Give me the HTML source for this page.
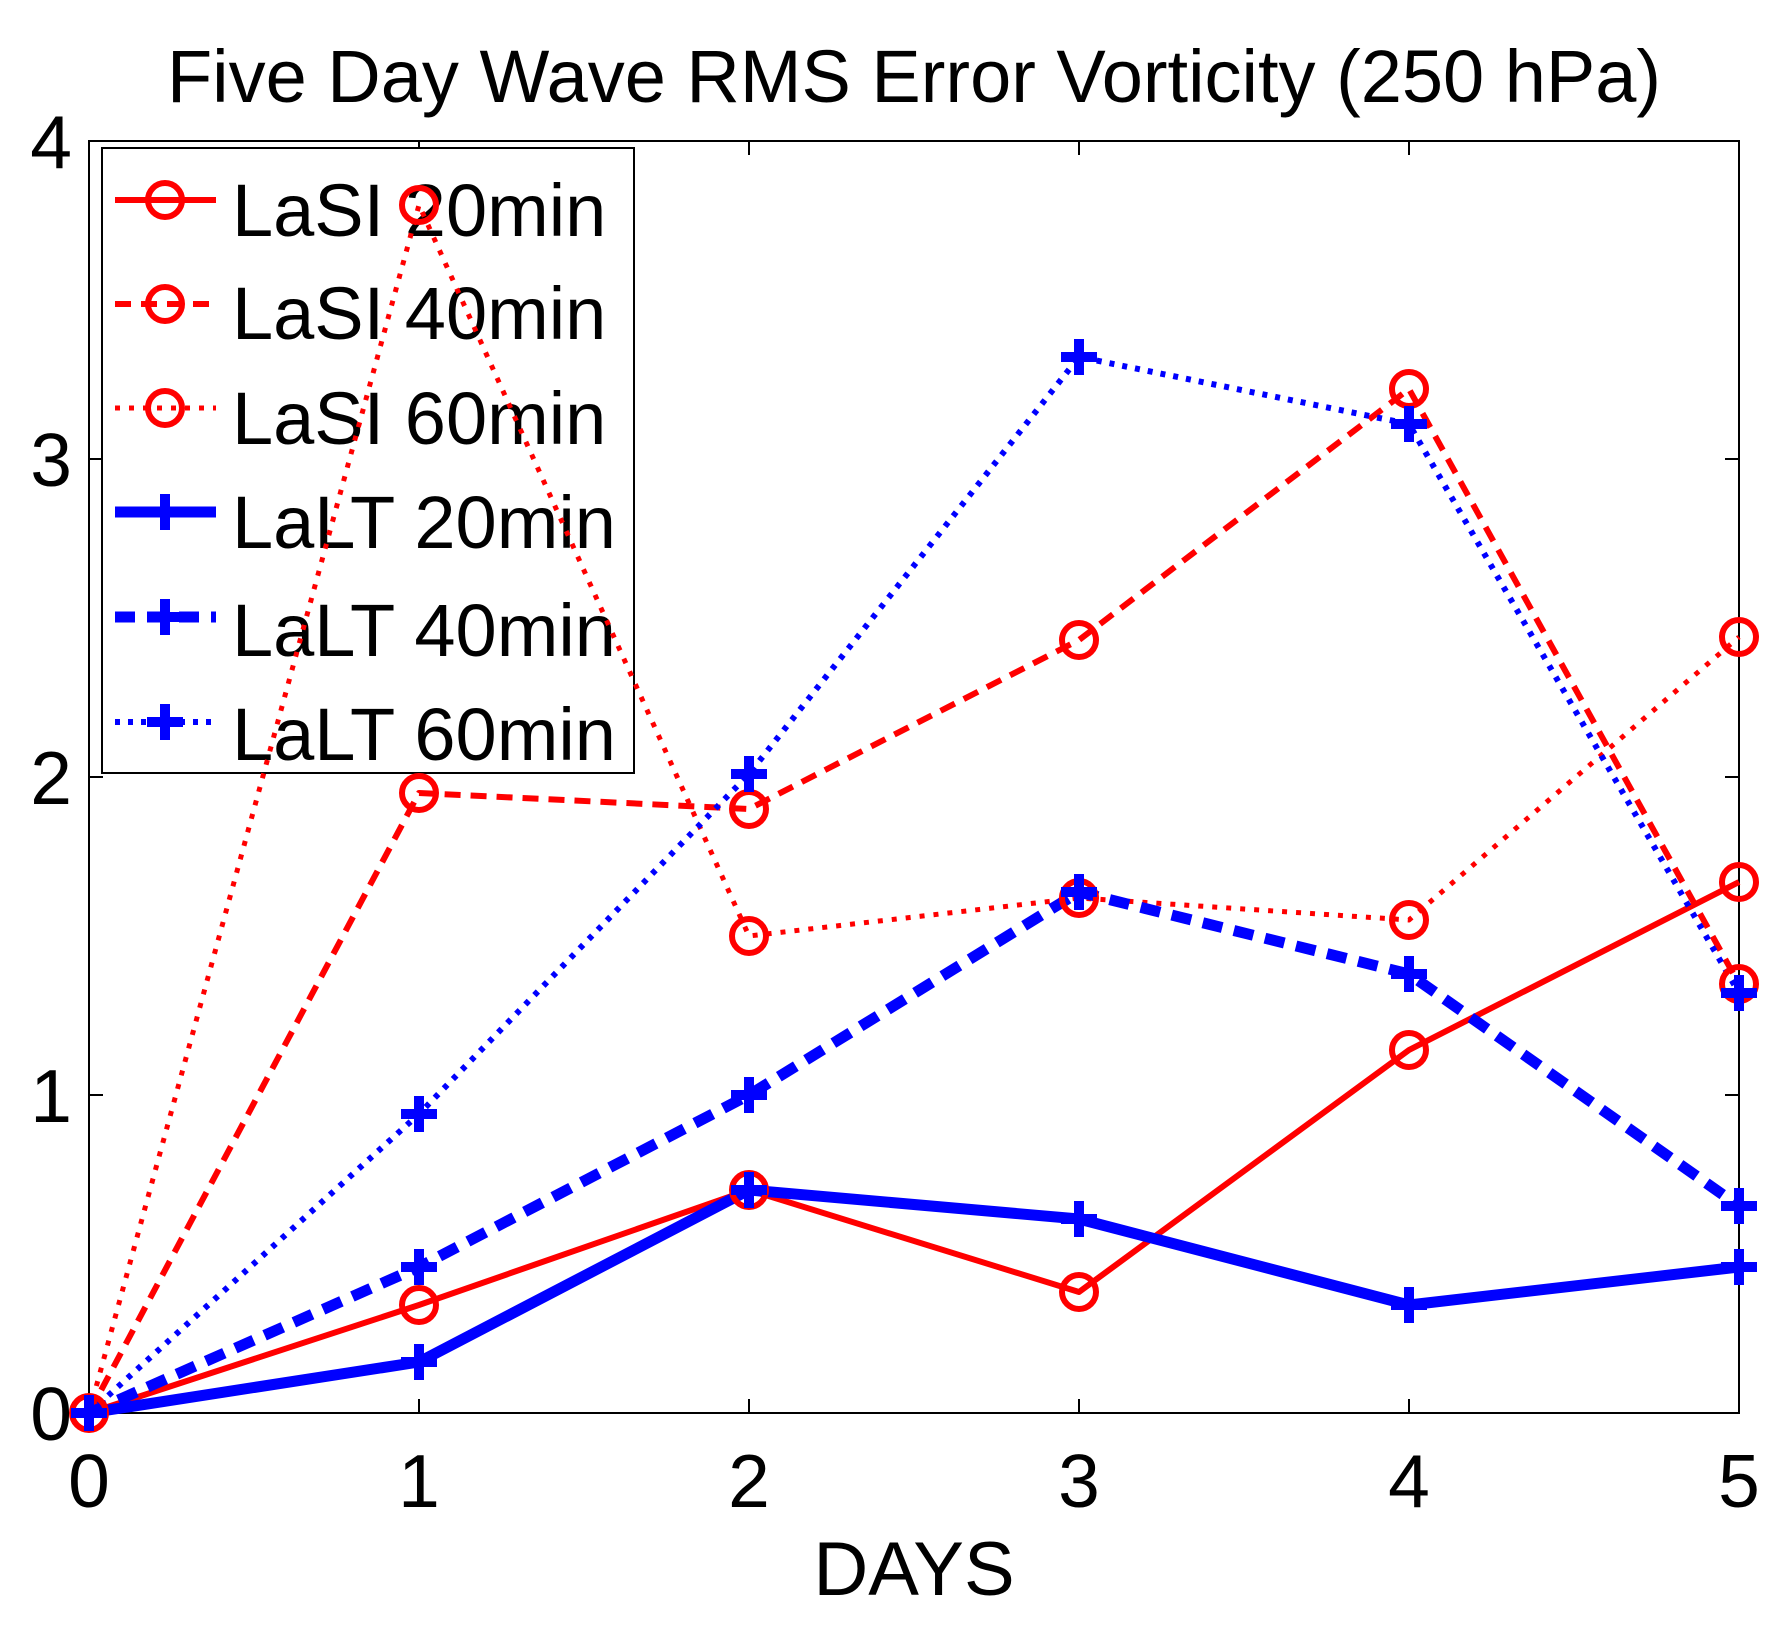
<!DOCTYPE html>
<html><head><meta charset="utf-8"><style>html,body{margin:0;padding:0;background:#fff}svg{display:block}</style></head>
<body>
<svg width="1786" height="1637" viewBox="0 0 1786 1637" xmlns="http://www.w3.org/2000/svg" font-family="Liberation Sans, Arial, sans-serif">
<rect width="1786" height="1637" fill="#fff"/>
<text x="914" y="102" font-size="74" text-anchor="middle">Five Day Wave RMS Error Vorticity (250 hPa)</text>
<!-- axes -->
<rect x="89" y="141" width="1650" height="1272" fill="none" stroke="#000" stroke-width="2"/>
<g stroke="#000" stroke-width="2">
<line x1="419" y1="1413" x2="419" y2="1399"/><line x1="749" y1="1413" x2="749" y2="1399"/><line x1="1079" y1="1413" x2="1079" y2="1399"/><line x1="1409" y1="1413" x2="1409" y2="1399"/>
<line x1="419" y1="141" x2="419" y2="155"/><line x1="749" y1="141" x2="749" y2="155"/><line x1="1079" y1="141" x2="1079" y2="155"/><line x1="1409" y1="141" x2="1409" y2="155"/>
<line x1="89" y1="459" x2="103" y2="459"/><line x1="89" y1="777" x2="103" y2="777"/><line x1="89" y1="1095" x2="103" y2="1095"/>
<line x1="1739" y1="459" x2="1725" y2="459"/><line x1="1739" y1="777" x2="1725" y2="777"/><line x1="1739" y1="1095" x2="1725" y2="1095"/>
</g>
<g font-size="75" text-anchor="middle">
<text x="89" y="1507">0</text><text x="419" y="1507">1</text><text x="749" y="1507">2</text><text x="1079" y="1507">3</text><text x="1409" y="1507">4</text><text x="1739" y="1507">5</text>
</g>
<g font-size="75" text-anchor="end">
<text x="72" y="1440">0</text><text x="72" y="1122">1</text><text x="72" y="804">2</text><text x="72" y="486">3</text><text x="72" y="168">4</text>
</g>
<text x="914" y="1595" font-size="76" text-anchor="middle">DAYS</text>
<!-- legend -->
<rect x="102" y="148" width="532" height="625" fill="#fff" stroke="#000" stroke-width="2"/>
<g font-size="74">
<text x="232" y="236">LaSI 20min</text><text x="232" y="339">LaSI 40min</text><text x="232" y="444">LaSI 60min</text>
<text x="232" y="548">LaLT 20min</text><text x="232" y="656">LaLT 40min</text><text x="232" y="760">LaLT 60min</text>
</g>
<g fill="none">
<line x1="115" y1="200" x2="216" y2="200" stroke="#f00" stroke-width="6"/>
<line x1="115" y1="304" x2="216" y2="304" stroke="#f00" stroke-width="6" stroke-dasharray="16,10"/>
<line x1="115" y1="408" x2="216" y2="408" stroke="#f00" stroke-width="5" stroke-dasharray="5,9"/>
<circle cx="165" cy="200" r="17" stroke="#f00" stroke-width="6"/><circle cx="165" cy="304" r="17" stroke="#f00" stroke-width="6"/><circle cx="165" cy="408" r="17" stroke="#f00" stroke-width="6"/>
<line x1="115" y1="512" x2="216" y2="512" stroke="#00f" stroke-width="11"/>
<line x1="115" y1="617" x2="216" y2="617" stroke="#00f" stroke-width="11" stroke-dasharray="20,12"/>
<line x1="115" y1="722" x2="216" y2="722" stroke="#00f" stroke-width="6" stroke-dasharray="5,8"/>
<path d="M147 512h36M165 494v36 M147 617h36M165 599v36 M147 722h36M165 704v36" stroke="#00f" stroke-width="10"/>
</g>
<!-- series -->
<g fill="none" stroke-linejoin="round">
<polyline stroke="#f00" stroke-width="6" points="89,1413 419,1305 749,1190 1079,1292 1409,1050 1739,882"/>
<polyline stroke="#f00" stroke-width="6" stroke-dasharray="16,10" points="89,1413 419,793 749,809 1079,640 1409,389 1739,984"/>
<polyline stroke="#f00" stroke-width="5" stroke-dasharray="5,9" points="89,1413 419,205 749,936 1079,898 1409,920 1739,637"/>
<polyline stroke="#00f" stroke-width="11" points="89,1413 419,1362 749,1190 1079,1219 1409,1305 1739,1267"/>
<polyline stroke="#00f" stroke-width="11" stroke-dasharray="20,12" points="89,1413 419,1267 749,1095 1079,892 1409,974 1739,1206"/>
<polyline stroke="#00f" stroke-width="6" stroke-dasharray="5,8" points="89,1413 419,1114 749,774 1079,357 1409,424 1739,993"/>
</g>
<g fill="none" stroke="#f00" stroke-width="6">
<circle cx="89" cy="1413" r="17"/><circle cx="419" cy="1305" r="17"/><circle cx="749" cy="1190" r="17"/><circle cx="1079" cy="1292" r="17"/><circle cx="1409" cy="1050" r="17"/><circle cx="1739" cy="882" r="17"/>
<circle cx="419" cy="793" r="17"/><circle cx="749" cy="809" r="17"/><circle cx="1079" cy="640" r="17"/><circle cx="1409" cy="389" r="17"/><circle cx="1739" cy="984" r="17"/>
<circle cx="419" cy="205" r="17"/><circle cx="749" cy="936" r="17"/><circle cx="1079" cy="898" r="17"/><circle cx="1409" cy="920" r="17"/><circle cx="1739" cy="637" r="17"/>
</g>
<g stroke="#00f" stroke-width="10" fill="none">
<path d="M71 1413h36M89 1395v36 M401 1362h36M419 1344v36 M731 1190h36M749 1172v36 M1061 1219h36M1079 1201v36 M1391 1305h36M1409 1287v36 M1721 1267h36M1739 1249v36"/>
<path d="M401 1267h36M419 1249v36 M731 1095h36M749 1077v36 M1061 892h36M1079 874v36 M1391 974h36M1409 956v36 M1721 1206h36M1739 1188v36"/>
<path d="M401 1114h36M419 1096v36 M731 774h36M749 756v36 M1061 357h36M1079 339v36 M1391 424h36M1409 406v36 M1721 993h36M1739 975v36"/>
</g>
</svg>
</body></html>
